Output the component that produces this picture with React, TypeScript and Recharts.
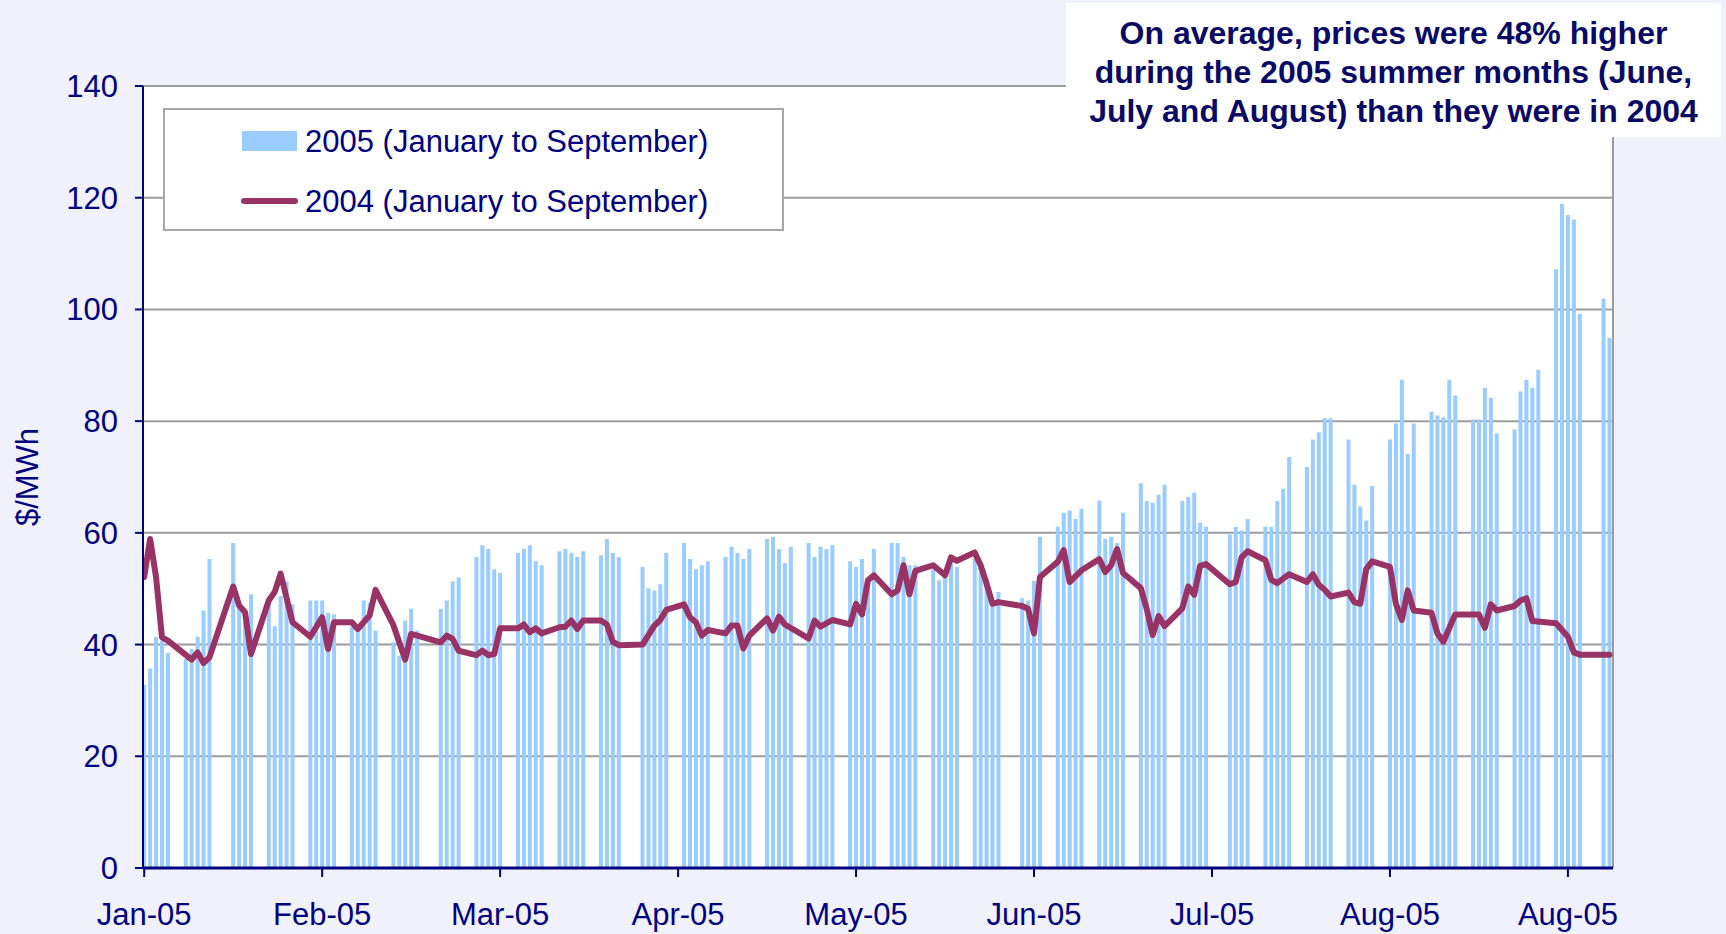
import React from "react";
import {
  ComposedChart,
  Bar,
  Line,
  XAxis,
  YAxis,
  CartesianGrid,
  Legend,
  ReferenceLine,
} from "recharts";

const NAVY = "#000080";
const FONT = '"Liberation Sans", Arial, sans-serif';
const BAR_BLUE = "#99CCFF";
const PLUM = "#993366";

// 2005 daily prices ($/MWh), Mon..Fri of each week from Mon 3 Jan 2005. null = holiday
const prices2005: (number | null)[][] = [
  [32.8, 35.7, 41.4, 40.7, 38.5],
  [37.4, 39.2, 41.4, 46.1, 55.3],
  [null, 58.2, 46.7, 43.9, 49.0],
  [48.0, 43.3, 48.7, 51.3, 47.2],
  [47.9, 47.9, 47.9, 45.7, 45.4],
  [43.2, 42.8, 47.9, 47.5, 42.5],
  [40.4, 38.0, 44.3, 46.4, 42.5],
  [null, 46.4, 47.9, 51.3, 52.0],
  [55.7, 57.8, 57.1, 53.5, 52.8],
  [56.4, 57.1, 57.8, 54.9, 54.2],
  [56.7, 57.1, 56.4, 55.7, 56.7],
  [56.0, 58.9, 56.4, 55.7, null],
  [53.9, 50.1, 49.7, 50.8, 56.4],
  [58.2, 55.3, 53.5, 54.2, 54.9],
  [55.7, 57.5, 56.4, 55.3, 57.1],
  [58.9, 59.3, 57.1, 54.6, 57.5],
  [58.2, 55.7, 57.5, 57.1, 57.8],
  [54.9, 53.9, 55.3, 51.5, 57.1],
  [58.2, 58.2, 55.7, 54.2, 54.2],
  [53.5, 51.5, 52.1, 56.0, 53.9],
  [55.3, 54.0, 52.0, 46.8, 49.4],
  [null, 48.3, 47.9, 51.4, 59.3],
  [61.1, 63.6, 64.0, 62.5, 64.3],
  [65.8, 58.9, 59.3, 58.2, 63.6],
  [68.9, 65.7, 65.4, 66.8, 68.6],
  [65.7, 66.4, 67.2, 61.8, 61.1],
  [null, 59.7, 61.1, 60.4, 62.5],
  [61.1, 61.1, 65.7, 67.9, 73.6],
  [71.8, 76.7, 78.0, 80.5, 80.5],
  [76.7, 68.6, 64.7, 62.2, 68.4],
  [76.7, 79.6, 87.4, 74.1, 79.6],
  [81.7, 81.0, 80.7, 87.4, 84.6],
  [80.3, 80.3, 86.0, 84.2, 77.8],
  [78.5, 85.3, 87.4, 86.0, 89.2],
  [107.2, 118.9, 116.9, 116.1, 99.2],
  [null, 101.9, 94.9],
];

// 2004 series: day index (on the 2005 calendar) and price
const days2004 = [
  0, 1, 2, 3, 4, 8, 9, 10, 11, 15, 16, 17, 18, 21, 22, 23, 25, 28, 30, 31, 32,
  35, 36, 38, 39, 42, 44, 45, 50, 51, 52, 53, 56, 57, 58, 59, 60, 63, 64, 65,
  66, 67, 70, 71, 72, 73, 74, 77, 78, 79, 80, 84, 86, 87, 88, 91, 92, 93, 94,
  95, 98, 99, 100, 101, 102, 105, 106, 107, 108, 112, 113, 114, 116, 119, 120,
  121, 122, 123, 126, 127, 128, 129, 130, 133, 135, 136, 137, 140, 141, 142,
  143, 144, 148, 149, 150, 151, 154, 155, 156, 158, 161, 162, 163, 164, 165,
  168, 169, 170, 171, 172, 175, 176, 177, 178, 179, 183, 184, 185, 186, 189,
  190, 191, 193, 196, 197, 198, 199, 200, 203, 204, 205, 206, 207, 210, 211,
  212, 213, 214, 217, 218, 219, 221, 225, 226, 227, 228, 231, 232, 233, 234,
  238, 240, 241, 242, 247,
];
const prices2004 = [
  52.1, 58.9, 52.1, 41.3, 40.7, 37.3, 38.6, 36.7, 37.7, 50.4, 47.0, 45.8, 38.3,
  47.9, 49.4, 52.7, 44.0, 41.4, 44.9, 39.2, 44.0, 44.0, 42.8, 45.2, 49.8, 43.5,
  37.3, 41.9, 40.4, 41.6, 41.0, 38.9, 38.1, 38.9, 38.1, 38.3, 42.9, 42.9, 43.6,
  42.2, 42.9, 42.0, 43.1, 43.2, 44.3, 42.8, 44.3, 44.3, 43.6, 40.5, 39.9, 40.0,
  43.4, 44.4, 46.2, 47.2, 44.9, 44.0, 41.6, 42.6, 42.0, 43.4, 43.4, 39.3, 41.6,
  44.7, 42.5, 45.0, 43.6, 41.1, 44.3, 43.2, 44.4, 43.6, 47.3, 45.4, 51.5, 52.4,
  49.0, 49.7, 54.2, 49.0, 53.2, 54.2, 52.4, 55.6, 55.0, 56.5, 54.2, 50.9, 47.3,
  47.6, 46.9, 46.4, 42.0, 52.1, 54.8, 56.9, 51.2, 53.3, 55.3, 53.0, 54.2, 57.1,
  52.8, 50.1, 46.4, 41.7, 45.1, 43.3, 46.5, 50.4, 48.9, 54.1, 54.4, 50.8, 51.2,
  55.6, 56.7, 55.1, 51.6, 51.0, 52.6, 51.2, 52.6, 50.7, 49.8, 48.6, 49.3, 47.6,
  47.3, 53.5, 54.9, 53.9, 47.3, 44.4, 49.7, 46.1, 45.7, 42.0, 40.5, 45.4, 45.4,
  43.0, 47.2, 46.1, 46.9, 47.9, 48.3, 44.2, 43.8, 41.4, 38.6, 38.2, 38.2,
];

const tickDays = [0, 30, 60, 90, 120, 150, 180, 210, 240];
const tickLabels = ["Jan-05", "Feb-05", "Mar-05", "Apr-05", "May-05", "Jun-05", "Jul-05", "Aug-05", "Aug-05"];
const yTicks = [0, 20, 40, 60, 80, 100, 120, 140];

const TOTAL_DAYS = 248;
const X_DOMAIN: [number, number] = [-0.2, 247.6];

type Row = { day: number; p2005: number | null; p2004: number | null };

const data: Row[] = Array.from({ length: TOTAL_DAYS }, (_, day) => ({ day, p2005: null, p2004: null }));
prices2005.forEach((week, w) =>
  week.forEach((v, d) => {
    data[w * 7 + d].p2005 = v;
  })
);
days2004.forEach((d, i) => {
  data[d].p2004 = prices2004[i];
});

const LegendBox = () => (
  <div
    style={{
      width: 621,
      height: 123,
      background: "#fff",
      border: "2px solid #A6A6A6",
      boxSizing: "border-box",
      position: "relative",
      fontFamily: FONT,
      fontSize: 31,
      color: NAVY,
    }}
  >
    <div style={{ position: "absolute", left: 77, top: 21, width: 55, height: 20, background: BAR_BLUE }} />
    <div style={{ position: "absolute", left: 140, top: 16, lineHeight: "31px", whiteSpace: "nowrap" }}>
      2005 (January to September)
    </div>
    <div style={{ position: "absolute", left: 76, top: 88, width: 57, height: 6, borderRadius: 3, background: PLUM }} />
    <div style={{ position: "absolute", left: 140, top: 76, lineHeight: "31px", whiteSpace: "nowrap" }}>
      2004 (January to September)
    </div>
  </div>
);

export default function App() {
  const axisTick = { fill: NAVY, fontSize: 31, fontFamily: FONT };

  return (
    <div style={{ position: "absolute", left: 0, top: 0, width: 1726, height: 934, background: "#F1F1FC", overflow: "hidden" }}>
      <ComposedChart
        width={1726}
        height={934}
        data={data}
        margin={{ top: 86, right: 113, left: 0, bottom: 0 }}
      >
        <CartesianGrid horizontal={false} vertical={false} fill="#fff" />
        <XAxis
          dataKey="day"
          type="number"
          domain={X_DOMAIN}
          allowDataOverflow
          ticks={tickDays}
          interval={0}
          tickFormatter={(v: number) => tickLabels[tickDays.indexOf(v)] ?? ""}
          height={66}
          tick={axisTick}
          tickSize={9}
          tickMargin={26}
          axisLine={{ stroke: NAVY, strokeWidth: 3 }}
          tickLine={{ stroke: NAVY, strokeWidth: 2 }}
        />
        <YAxis
          domain={[0, 140]}
          ticks={yTicks}
          interval={0}
          width={143}
          tick={axisTick}
          tickSize={8}
          tickMargin={17}
          axisLine={{ stroke: NAVY, strokeWidth: 2 }}
          tickLine={{ stroke: NAVY, strokeWidth: 2 }}
        />
        <Bar dataKey="p2005" name="2005 (January to September)" fill={BAR_BLUE} barSize={4} isAnimationActive={false} />
        <CartesianGrid horizontal vertical={false} stroke="#9C9C9C" strokeWidth={2} />
        <ReferenceLine x={X_DOMAIN[1]} stroke="#9C9C9C" strokeWidth={2} />
        <Line
          dataKey="p2004"
          name="2004 (January to September)"
          type="linear"
          stroke={PLUM}
          strokeWidth={6}
          strokeLinejoin="round"
          strokeLinecap="round"
          dot={false}
          activeDot={false}
          connectNulls
          isAnimationActive={false}
        />
        <Legend
          layout="horizontal"
          verticalAlign="middle"
          align="center"
          content={() => <LegendBox />}
          wrapperStyle={{ left: 163, top: 108, width: 621, height: 123 }}
        />
      </ComposedChart>

      <div
        style={{
          position: "absolute",
          left: 28,
          top: 477,
          transform: "translate(-50%, -50%) rotate(-90deg)",
          fontFamily: FONT,
          fontSize: 31,
          color: NAVY,
          whiteSpace: "nowrap",
        }}
      >
        $/MWh
      </div>

      <div
        style={{
          position: "absolute",
          left: 1066,
          top: 3,
          width: 655,
          height: 134,
          background: "#fff",
          boxSizing: "border-box",
          paddingTop: 11,
          textAlign: "center",
          fontFamily: FONT,
          fontWeight: "bold",
          fontSize: 32,
          lineHeight: "39px",
          color: "#0A0A66",
        }}
      >
        <div>On average, prices were 48% higher</div>
        <div>during the 2005 summer months (June,</div>
        <div style={{ whiteSpace: "nowrap" }}>July and August) than they were in 2004</div>
      </div>
    </div>
  );
}
